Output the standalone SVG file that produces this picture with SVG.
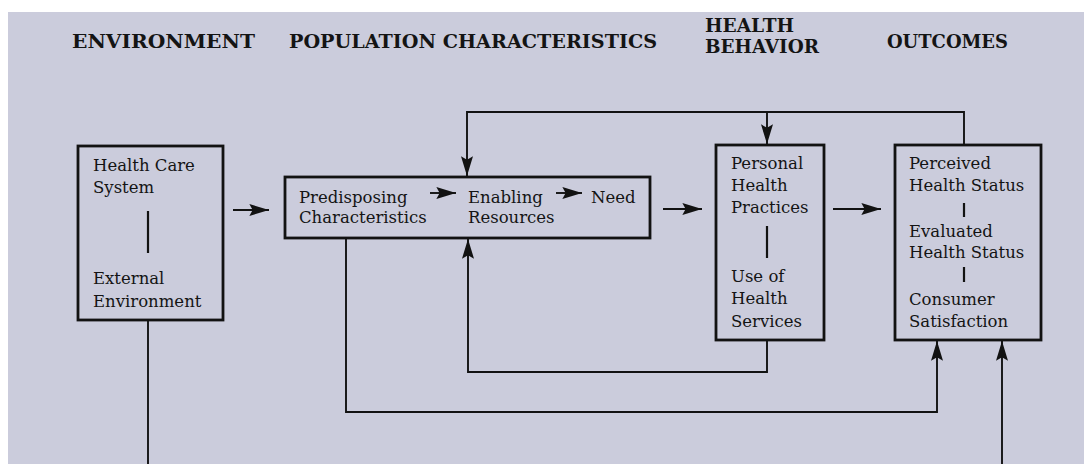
<svg xmlns="http://www.w3.org/2000/svg" width="1084" height="464" viewBox="0 0 1084 464">
<style>
.hdr{font-family:"DejaVu Serif","Liberation Serif",serif;font-weight:bold;font-size:19px;fill:#141414}
.t{font-family:"DejaVu Serif","Liberation Serif",serif;font-size:16.5px;fill:#141414}
.box{fill:none;stroke:#121212;stroke-width:2.8}
.sep{stroke:#121212;stroke-width:2.2}
.c{fill:none;stroke:#121212;stroke-width:1.9}
.ca{fill:none;stroke:#121212;stroke-width:1.9;marker-end:url(#ah)}
</style>
<defs>
<marker id="ah" markerUnits="userSpaceOnUse" markerWidth="20" markerHeight="12" viewBox="0 0 18 11" refX="18" refY="5.5" orient="auto">
<path d="M0,0 L18,5.5 L0,11 L3,5.5 z" fill="#121212"/>
</marker>
</defs>
<rect x="0" y="0" width="1084" height="464" fill="#ffffff"/>
<rect x="8" y="12" width="1076" height="452" fill="#cbccdc"/>
<g id="headers">
<text class="hdr" x="72" y="48" textLength="183" lengthAdjust="spacingAndGlyphs">ENVIRONMENT</text>
<text class="hdr" x="289" y="48" textLength="368" lengthAdjust="spacingAndGlyphs">POPULATION CHARACTERISTICS</text>
<text class="hdr" x="705" y="32" textLength="89" lengthAdjust="spacingAndGlyphs">HEALTH</text>
<text class="hdr" x="705" y="53" textLength="114" lengthAdjust="spacingAndGlyphs">BEHAVIOR</text>
<text class="hdr" x="887" y="48" textLength="121" lengthAdjust="spacingAndGlyphs">OUTCOMES</text>
</g>
<g id="environment">
<rect class="box" x="78" y="146" width="145" height="174"/>
<text class="t" x="93" y="171">Health Care</text>
<text class="t" x="93" y="193">System</text>
<line class="sep" x1="148" y1="211" x2="148" y2="253"/>
<text class="t" x="93" y="284">External</text>
<text class="t" x="93" y="307">Environment</text>
</g>
<g id="population">
<rect class="box" x="285" y="177" width="365" height="61"/>
<text class="t" x="299" y="203">Predisposing</text>
<text class="t" x="299" y="223">Characteristics</text>
<text class="t" x="468" y="203">Enabling</text>
<text class="t" x="468" y="223">Resources</text>
<text class="t" x="591" y="203">Need</text>
<line class="ca" x1="430" y1="193" x2="456" y2="193"/>
<line class="ca" x1="556" y1="193" x2="582" y2="193"/>
</g>
<g id="health-behavior">
<rect class="box" x="716" y="145" width="108" height="195"/>
<text class="t" x="731" y="169">Personal</text>
<text class="t" x="731" y="191">Health</text>
<text class="t" x="731" y="213">Practices</text>
<line class="sep" x1="767" y1="226" x2="767" y2="258"/>
<text class="t" x="731" y="282">Use of</text>
<text class="t" x="731" y="304">Health</text>
<text class="t" x="731" y="327">Services</text>
</g>
<g id="outcomes">
<rect class="box" x="895" y="145" width="146" height="195"/>
<text class="t" x="909" y="169">Perceived</text>
<text class="t" x="909" y="191">Health Status</text>
<line class="sep" x1="964" y1="203" x2="964" y2="217"/>
<text class="t" x="909" y="237">Evaluated</text>
<text class="t" x="909" y="258">Health Status</text>
<line class="sep" x1="964" y1="267" x2="964" y2="282"/>
<text class="t" x="909" y="305">Consumer</text>
<text class="t" x="909" y="327">Satisfaction</text>
</g>
<g id="connectors">
<line class="ca" x1="233" y1="210" x2="269" y2="210"/>
<line class="ca" x1="663" y1="209" x2="702" y2="209"/>
<line class="ca" x1="833" y1="209" x2="881" y2="209"/>
<path class="ca" d="M964,145 V112 H467 V176"/>
<line class="ca" x1="767" y1="112" x2="767" y2="144"/>
<path class="ca" d="M767,341 V372 H468 V239"/>
<path class="ca" d="M346,239 V412 H937 V341"/>
<line class="c" x1="148" y1="320" x2="148" y2="464"/>
<line class="ca" x1="1002" y1="464" x2="1002" y2="341"/>
</g>
</svg>
